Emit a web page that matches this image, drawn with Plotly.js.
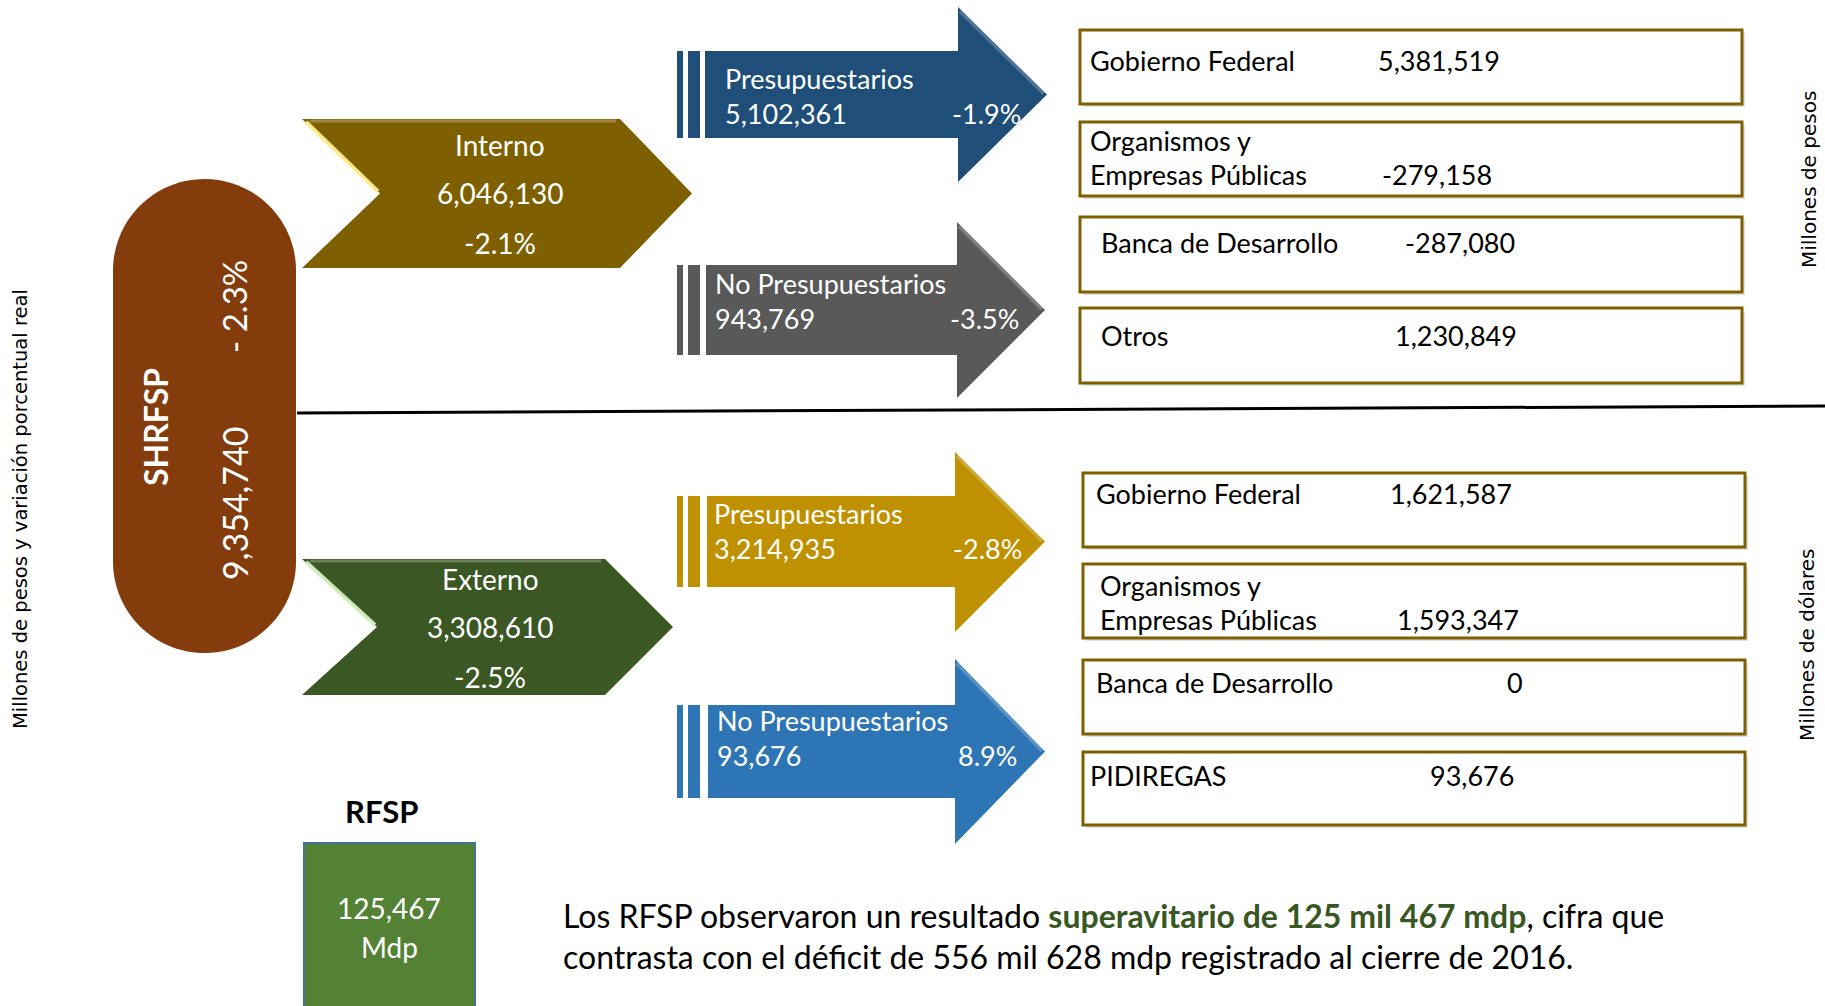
<!DOCTYPE html>
<html>
<head>
<meta charset="utf-8">
<script src="https://cdn.plot.ly/plotly-3.0.1.min.js"></script>
<style>html,body{margin:0;padding:0;background:#fff;}#chart{width:1825px;height:1006px;}</style>
</head>
<body>
<div id="chart"></div>
<script>
// ---------------- DATA ----------------
const totalLabel = 'SHRFSP';
const totalValor = 9354740;
const totalVar = -2.3;

const fuentes = ['Interno', 'Externo'];
const fuenteValores = [6046130, 3308610];
const fuenteVar = [-2.1, -2.5];

const sectores = ['Presupuestarios', 'No Presupuestarios', 'Presupuestarios', 'No Presupuestarios'];
const sectorValores = [5102361, 943769, 3214935, 93676];
const sectorVar = [-1.9, -3.5, -2.8, 8.9];

const entidadesInternas = ['Gobierno Federal', 'Organismos y\nEmpresas Públicas', 'Banca de Desarrollo', 'Otros'];
const valoresInternos = [5381519, -279158, -287080, 1230849];
const entidadesExternas = ['Gobierno Federal', 'Organismos y\nEmpresas Públicas', 'Banca de Desarrollo', 'PIDIREGAS'];
const valoresExternos = [1621587, 1593347, 0, 93676];

const rfspLabel = 'RFSP';
const rfspValor = 125467;
const rfspUnidad = 'Mdp';

const textoLinea1a = 'Los RFSP observaron un resultado ';
const textoLinea1b = 'superavitario de 125 mil 467 mdp';
const textoLinea1c = ', cifra que';
const textoLinea2 = 'contrasta con el déficit de 556 mil 628 mdp registrado al cierre de 2016.';

const ejeIzq = 'Millones de pesos y variación porcentual real';
const ejeDerSup = 'Millones de pesos';
const ejeDerInf = 'Millones de dólares';

// ---------------- GEOMETRY / STYLE (layout only) ----------------
const W = 1825, H = 1006;
const FONT = 'Lato, "Open Sans", sans-serif';
const fmt = v => v.toLocaleString('en-US');
const pct = v => v.toFixed(1) + '%';

const pill = {x0: 113, x1: 296, y0: 179, y1: 653, color: '#843C0C'};
const chevrons = [
  {x0: 302, notch: 380, corner: 620, tip: 692, y0: 119, y1: 268, color: '#7F6000', hl: 'rgba(255,236,150,0.95)', tx: 500, ty: [145, 193, 243]},
  {x0: 302, notch: 377, corner: 605, tip: 673, y0: 559, y1: 695, color: '#3B5724', hl: 'rgba(215,238,195,0.95)', tx: 490, ty: [579, 627, 677]}
];
const arrows = [
  {bx0: 705, hx: 958, tip: 1047, by0: 51, by1: 138, hy0: 7, hy1: 182, color: '#1F4E79', lx: 723, ly: 78, px: 950},
  {bx0: 706, hx: 957, tip: 1045, by0: 265, by1: 355, hy0: 222, hy1: 398, color: '#595959', lx: 713, ly: 283, px: 948},
  {bx0: 707, hx: 955, tip: 1045, by0: 496, by1: 587, hy0: 452, hy1: 632, color: '#BF9000', lx: 712, ly: 513, px: 951},
  {bx0: 708, hx: 955, tip: 1045, by0: 705, by1: 798, hy0: 659, hy1: 844, color: '#2E75B6', lx: 715, ly: 720, px: 956}
];
const stripes = [[677, 683], [688, 700]];
const boxesTop = [
  {x0: 1080, x1: 1742, y0: 30, y1: 104, tx: 1088, ty: 60, vx: 1376},
  {x0: 1080, x1: 1742, y0: 122, y1: 196, tx: 1088, ty: 140, vx: 1380},
  {x0: 1080, x1: 1742, y0: 217, y1: 292, tx: 1099, ty: 242, vx: 1403},
  {x0: 1080, x1: 1742, y0: 308, y1: 383, tx: 1099, ty: 335, vx: 1393}
];
const boxesBot = [
  {x0: 1083, x1: 1745, y0: 473, y1: 547, tx: 1094, ty: 493, vx: 1388},
  {x0: 1083, x1: 1745, y0: 564, y1: 638, tx: 1098, ty: 585, vx: 1395},
  {x0: 1083, x1: 1745, y0: 660, y1: 734, tx: 1094, ty: 682, vx: 1505},
  {x0: 1083, x1: 1745, y0: 752, y1: 825, tx: 1088, ty: 775, vx: 1428}
];
const lineGap = 34;

const shapes = [];
const annotations = [];
function ann(o) {
  annotations.push(Object.assign({xref: 'x', yref: 'y', showarrow: false, xanchor: 'left', yanchor: 'middle',
    font: {family: FONT, size: 27, color: '#000'}}, o));
}

// pill
(function () {
  const r = (pill.x1 - pill.x0) / 2, k = r * 0.5523, cx = (pill.x0 + pill.x1) / 2;
  const ct = pill.y0 + r, cb = pill.y1 - r;
  const p = `M${pill.x0},${ct} C${pill.x0},${ct - k} ${cx - k},${pill.y0} ${cx},${pill.y0} ` +
    `C${cx + k},${pill.y0} ${pill.x1},${ct - k} ${pill.x1},${ct} L${pill.x1},${cb} ` +
    `C${pill.x1},${cb + k} ${cx + k},${pill.y1} ${cx},${pill.y1} C${cx - k},${pill.y1} ${pill.x0},${cb + k} ${pill.x0},${cb} Z`;
  shapes.push({type: 'path', path: p, fillcolor: pill.color, line: {width: 0}, layer: 'below'});
  ann({x: 155, y: 427, xanchor: 'center', textangle: -90, text: '<b>' + totalLabel + '</b>', font: {family: FONT, size: 32, color: '#fff'}});
  ann({x: 234, y: 504, xanchor: 'center', textangle: -90, text: fmt(totalValor), font: {family: FONT, size: 34, color: '#fff'}});
  ann({x: 234, y: 307, xanchor: 'center', textangle: -90, text: '- ' + Math.abs(totalVar).toFixed(1) + '%', font: {family: FONT, size: 33, color: '#fff'}});
})();

// separator line
shapes.push({type: 'line', x0: 297, y0: 413, x1: W, y1: 406, line: {color: '#000', width: 3}});

// chevrons
chevrons.forEach((c, i) => {
  const ym = (c.y0 + c.y1) / 2;
  shapes.push({type: 'path', path: `M${c.x0},${c.y0} L${c.corner},${c.y0} L${c.tip},${ym} L${c.corner},${c.y1} L${c.x0},${c.y1} L${c.notch},${ym} Z`,
    fillcolor: c.color, line: {width: 0}});
  shapes.push({type: 'line', x0: c.x0 + 4, y0: c.y0 + 3, x1: c.notch - 2, y1: ym - 2, line: {color: c.hl, width: 4}});
  shapes.push({type: 'line', x0: c.x0 + 8, y0: c.y0 + 2, x1: c.corner - 4, y1: c.y0 + 2, line: {color: 'rgba(255,255,255,0.25)', width: 3}});
  const lines = [fuentes[i], fmt(fuenteValores[i]), pct(fuenteVar[i])];
  lines.forEach((t, j) => ann({x: c.tx, y: c.ty[j], xanchor: 'center', text: t, font: {family: FONT, size: 28, color: '#fff'}}));
});

// arrows
arrows.forEach((a, i) => {
  const ym = (a.by0 + a.by1) / 2;
  shapes.push({type: 'path', path: `M${a.bx0},${a.by0} L${a.hx},${a.by0} L${a.hx},${a.hy0} L${a.tip},${ym} L${a.hx},${a.hy1} L${a.hx},${a.by1} L${a.bx0},${a.by1} Z`,
    fillcolor: a.color, line: {width: 0}});
  shapes.push({type: 'line', x0: a.hx + 2, y0: a.hy0 + 4, x1: a.tip - 3, y1: ym - 1, line: {color: 'rgba(255,255,255,0.22)', width: 4}});
  stripes.forEach(s => shapes.push({type: 'rect', x0: s[0], x1: s[1], y0: a.by0, y1: a.by1, fillcolor: a.color, line: {width: 0}}));
  ann({x: a.lx, y: a.ly, text: sectores[i], font: {family: FONT, size: 27, color: '#fff'}});
  ann({x: a.lx, y: a.ly + 35, text: fmt(sectorValores[i]), font: {family: FONT, size: 27, color: '#fff'}});
  ann({x: a.px, y: a.ly + 35, text: pct(sectorVar[i]), font: {family: FONT, size: 27, color: '#fff'}});
});

// boxes
function drawBoxes(boxes, names, vals) {
  boxes.forEach((b, i) => {
    shapes.push({type: 'rect', x0: b.x0 + 3, x1: b.x1 + 3, y0: b.y0 + 3, y1: b.y1 + 3, fillcolor: 'rgba(0,0,0,0.12)', line: {width: 0}});
    shapes.push({type: 'rect', x0: b.x0, x1: b.x1, y0: b.y0, y1: b.y1, fillcolor: '#fff', line: {color: '#7F6000', width: 3}});
    const parts = names[i].split('\n');
    parts.forEach((p, j) => ann({x: b.tx, y: b.ty + j * lineGap, text: p}));
    ann({x: b.vx, y: b.ty + (parts.length - 1) * lineGap, text: fmt(vals[i])});
  });
}
drawBoxes(boxesTop, entidadesInternas, valoresInternos);
drawBoxes(boxesBot, entidadesExternas, valoresExternos);

// axis-like labels
ann({x: 20, y: 509, xanchor: 'center', textangle: -90, text: ejeIzq, font: {family: 'DejaVu Sans, sans-serif', size: 19.5, color: '#000'}});
ann({x: 1809, y: 180, xanchor: 'center', textangle: -90, text: ejeDerSup, font: {family: 'DejaVu Sans, sans-serif', size: 20, color: '#000'}});
ann({x: 1807, y: 645, xanchor: 'center', textangle: -90, text: ejeDerInf, font: {family: 'DejaVu Sans, sans-serif', size: 20, color: '#000'}});

// RFSP
ann({x: 381, y: 811, xanchor: 'center', text: '<b>' + rfspLabel + '</b>', font: {family: FONT, size: 31, color: '#000'}});
shapes.push({type: 'rect', x0: 304, x1: 475, y0: 843, y1: H + 10, fillcolor: '#548235', line: {color: '#41719C', width: 2}});
ann({x: 389, y: 908, xanchor: 'center', text: fmt(rfspValor), font: {family: FONT, size: 28, color: '#fff'}});
ann({x: 389, y: 947, xanchor: 'center', text: rfspUnidad, font: {family: FONT, size: 28, color: '#fff'}});

// paragraph
ann({x: 561, y: 915, text: textoLinea1a + '<b><span style="color:#385723">' + textoLinea1b + '</span></b>' + textoLinea1c, font: {family: FONT, size: 32, color: '#000'}});
ann({x: 561, y: 956, text: textoLinea2, font: {family: FONT, size: 32, color: '#000'}});

const layout = {
  width: W, height: H,
  margin: {l: 0, r: 0, t: 0, b: 0, pad: 0},
  paper_bgcolor: '#fff', plot_bgcolor: '#fff',
  xaxis: {range: [0, W], visible: false, fixedrange: true},
  yaxis: {range: [H, 0], visible: false, fixedrange: true},
  showlegend: false,
  shapes: shapes,
  annotations: annotations
};
Plotly.newPlot('chart', [{x: [], y: [], type: 'scatter', mode: 'markers', hoverinfo: 'skip'}], layout, {displayModeBar: false, staticPlot: true});
</script>
</body>
</html>
